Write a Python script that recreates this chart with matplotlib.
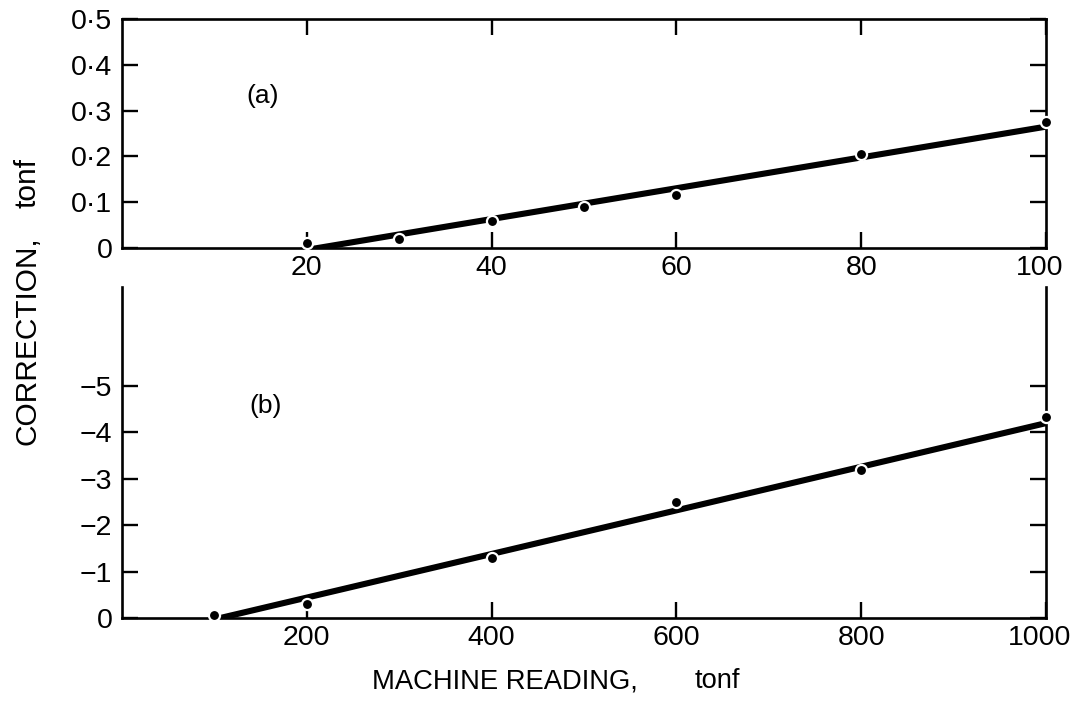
import matplotlib
matplotlib.use("Agg")
import matplotlib.pyplot as plt
from matplotlib.transforms import ScaledTranslation

plt.rcParams['font.family'] = ['Liberation Sans', 'DejaVu Sans']

# ---- data ----
a_x = [20, 30, 40, 50, 60, 80, 100]
a_y = [0.01, 0.02, 0.06, 0.09, 0.115, 0.205, 0.275]
a_fit_x = [20, 100]
a_fit_y = [-0.004, 0.265]
a_xticks = [20, 40, 60, 80, 100]
a_xlabels = ['20', '40', '60', '80', '100']
a_yticks = [0, 0.1, 0.2, 0.3, 0.4, 0.5]
a_ylabels = ['0', '0·1', '0·2', '0·3', '0·4', '0·5']

b_x = [100, 200, 400, 600, 800, 1000]
b_y = [-0.07, -0.3, -1.3, -2.5, -3.2, -4.33]
b_fit_x = [100, 1000]
b_fit_y = [0.03, -4.2]
b_xticks = [200, 400, 600, 800, 1000]
b_xlabels = ['200', '400', '600', '800', '1000']
b_yticks = [0, -1, -2, -3, -4, -5]
b_ylabels = ['0', '\u22121', '\u22122', '\u22123', '\u22124', '\u22125']

W, H = 1075, 703
fig = plt.figure(figsize=(W / 100, H / 100), dpi=100)

def ax_rect(l, t, r, b):
    return [l / W, (H - b) / H, (r - l) / W, (b - t) / H]

ax1 = fig.add_axes(ax_rect(122, 19, 1046, 248))
ax2 = fig.add_axes(ax_rect(122, 287, 1046, 618))

lw_spine = 1.9
tick_kw = dict(direction='in', length=11.5, width=1.7, labelsize=20.5, pad=7)

for ax in (ax1, ax2):
    for s in ax.spines.values():
        s.set_linewidth(lw_spine)
    ax.tick_params(axis='both', which='major', **tick_kw)
    ax.tick_params(axis='x', pad=5)

# panel (a)
ax1.plot(a_fit_x, a_fit_y, color='black', lw=4.4, solid_capstyle='round', zorder=2)
ax1.plot(a_x, a_y, 'o', color='black', ms=8, mec='white', mew=1.6, clip_on=False, zorder=3)
ax1.set_xlim(0, 100)
ax1.set_ylim(0, 0.5)
ax1.set_xticks(a_xticks)
ax1.set_xticklabels(a_xlabels)
ax1.set_yticks(a_yticks)
ax1.set_yticklabels(a_ylabels)
ax1.tick_params(top=True, right=True)
ax1.text(0.152, 0.665, '(a)', transform=ax1.transAxes, fontsize=19, ha='center', va='center')

# panel (b)
ax2.plot(b_fit_x, b_fit_y, color='black', lw=4.4, solid_capstyle='round', zorder=2)
ax2.plot(b_x, b_y, 'o', color='black', ms=8, mec='white', mew=1.6, clip_on=False, zorder=3)
ax2.set_xlim(0, 1000)
ax2.set_ylim(0, -(618 - 287) / 46.4)
ax2.set_xticks(b_xticks)
ax2.set_xticklabels(b_xlabels)
ax2.set_yticks(b_yticks)
ax2.set_yticklabels(b_ylabels)
ax2.spines['top'].set_visible(False)
ax2.tick_params(right=True, top=False)
ax2.text(0.155, 0.64, '(b)', transform=ax2.transAxes, fontsize=19, ha='center', va='center')

# nudge the right-most x tick labels inward, as in the reference
for ax in (ax1, ax2):
    lab = ax.get_xticklabels()[-1]
    lab.set_transform(lab.get_transform() + ScaledTranslation(-6 / 100, 0, fig.dpi_scale_trans))

# axis titles
fig.text(28 / W, 1 - 445 / H, 'CORRECTION,', rotation=90, fontsize=21.5,
         ha='center', va='bottom')
fig.text(28 / W, 1 - 158 / H, 'tonf', rotation=90, fontsize=21.5,
         ha='center', va='top')
fig.text(372 / W, 1 - 681 / H, 'MACHINE READING,', fontsize=19.7,
         ha='left', va='center')
fig.text(695 / W, 1 - 681 / H, 'tonf', fontsize=19.7,
         ha='left', va='center')

fig.savefig('out.png', dpi=100)
